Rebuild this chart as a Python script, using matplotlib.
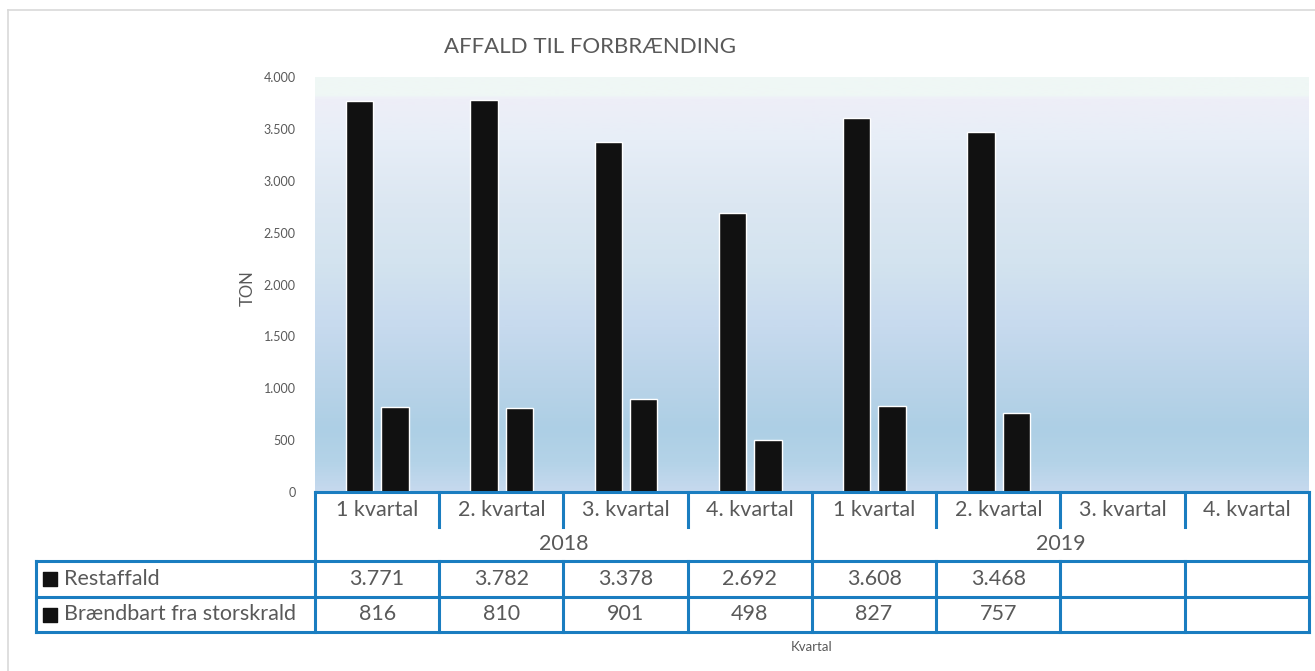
import numpy as np
import matplotlib.pyplot as plt
from matplotlib.colors import LinearSegmentedColormap
from matplotlib.ticker import FuncFormatter

# ---------------- data ----------------
quarters = ['1 kvartal', '2. kvartal', '3. kvartal', '4. kvartal',
            '1 kvartal', '2. kvartal', '3. kvartal', '4. kvartal']
years = ['2018', '2019']
series_names = ['Restaffald', 'Brændbart fra storskrald']
restaffald = [3771, 3782, 3378, 2692, 3608, 3468, np.nan, np.nan]
braendbart = [816, 810, 901, 498, 827, 757, np.nan, np.nan]

TXT = '#595959'
BLUE = '#1A7DC0'
FS = 15.5           # table text size
plt.rcParams['font.family'] = ['Lato', 'DejaVu Sans']

W, H = 1315, 671
fig = plt.figure(figsize=(W / 100, H / 100), dpi=100)

# plot area in pixels
L, R, T, B = 315, 1309, 77, 492
ax = fig.add_axes([L / W, 1 - B / H, (R - L) / W, (B - T) / H])

# gradient background
stops = [(0.0, '#EFF7F5'), (0.04, '#EFF7F5'), (0.05, '#EEEEF8'), (0.15, '#E7EEF7'),
         (0.30, '#DCE7F2'), (0.45, '#D3E3EF'), (0.60, '#C7DAEE'), (0.75, '#B8D3E8'),
         (0.85, '#ADCFE5'), (0.93, '#B4D3E8'), (1.0, '#C6D9EE')]
cmap = LinearSegmentedColormap.from_list('bg', stops)
grad = np.linspace(0, 1, 400).reshape(-1, 1)
ax.imshow(grad, extent=[-0.5, 7.5, 0, 4000], aspect='auto', cmap=cmap, zorder=0)

x = np.arange(len(quarters))
bw = 0.22
ax.bar(x - 0.14, restaffald, bw, color='#111111', edgecolor='white', linewidth=1, zorder=2)
ax.bar(x + 0.145, braendbart, bw, color='#111111', edgecolor='white', linewidth=1, zorder=2)

ax.set_xlim(-0.5, 7.5)
ax.set_ylim(0, 4000)
ax.set_yticks(np.arange(0, 4001, 500))
ax.yaxis.set_major_formatter(FuncFormatter(lambda v, p: f'{int(v):,}'.replace(',', '.')))
ax.tick_params(axis='y', length=0, pad=14, labelsize=9, labelcolor=TXT)
ax.set_xticks([])
for s in ax.spines.values():
    s.set_visible(False)

# overlay in pixel coordinates for table, title and frame
ov = fig.add_axes([0, 0, 1, 1], facecolor='none')
ov.set_xlim(0, W)
ov.set_ylim(H, 0)
ov.axis('off')

# outer frame
ov.plot([8, W], [10, 10], color='#D9D9D9', lw=1.2)
ov.plot([8, 8], [10, H], color='#D9D9D9', lw=1.2)

ov.text(590, 47, 'AFFALD TIL FORBRÆNDING', fontsize=16, color=TXT, ha='center', va='center')
ov.text(248, 288, 'TON', fontsize=12, color=TXT, ha='center', va='center', rotation=90)
ov.text(812, 647, 'Kvartal', fontsize=9.5, color=TXT, ha='center', va='center')

# table geometry
n = len(quarters)
cw = (R - L) / n
edges = [L + i * cw for i in range(n + 1)]
y_cat, y_mid, y_r1, y_r2, y_r3 = 492, 527, 561, 597, 632
lw = 2.2

# category header
ov.plot([L, R], [y_cat, y_cat], color=BLUE, lw=lw, solid_capstyle='projecting')
for i, e in enumerate(edges):
    if i in (0, 4, 8):
        ov.plot([e, e], [y_cat, y_r3], color=BLUE, lw=lw)
    else:
        ov.plot([e, e], [y_cat, y_mid], color=BLUE, lw=lw)
        ov.plot([e, e], [y_r1, y_r3], color=BLUE, lw=lw)
for i, q in enumerate(quarters):
    ov.text((edges[i] + edges[i + 1]) / 2, 510, q, fontsize=FS, color=TXT,
            ha='center', va='center')
for j, yr in enumerate(years):
    ov.text((edges[4 * j] + edges[4 * j + 4]) / 2, 544, yr, fontsize=FS, color=TXT,
            ha='center', va='center')

# data rows
x0 = 36
for yy in (y_r1, y_r2, y_r3):
    ov.plot([x0, R], [yy, yy], color=BLUE, lw=lw, solid_capstyle='projecting')
ov.plot([x0, x0], [y_r1, y_r3], color=BLUE, lw=lw)
for k, (name, vals) in enumerate([(series_names[0], restaffald), (series_names[1], braendbart)]):
    yc = (y_r1 + y_r2) / 2 if k == 0 else (y_r2 + y_r3) / 2
    ov.scatter([50], [yc], marker='s', s=90, color='#111111', zorder=3)
    ov.text(64, yc, name, fontsize=FS, color=TXT, ha='left', va='center')
    for i, v in enumerate(vals):
        if not np.isnan(v):
            ov.text((edges[i] + edges[i + 1]) / 2, yc, f'{int(v):,}'.replace(',', '.'),
                    fontsize=FS, color=TXT, ha='center', va='center')

fig.savefig('out.png', dpi=100)
